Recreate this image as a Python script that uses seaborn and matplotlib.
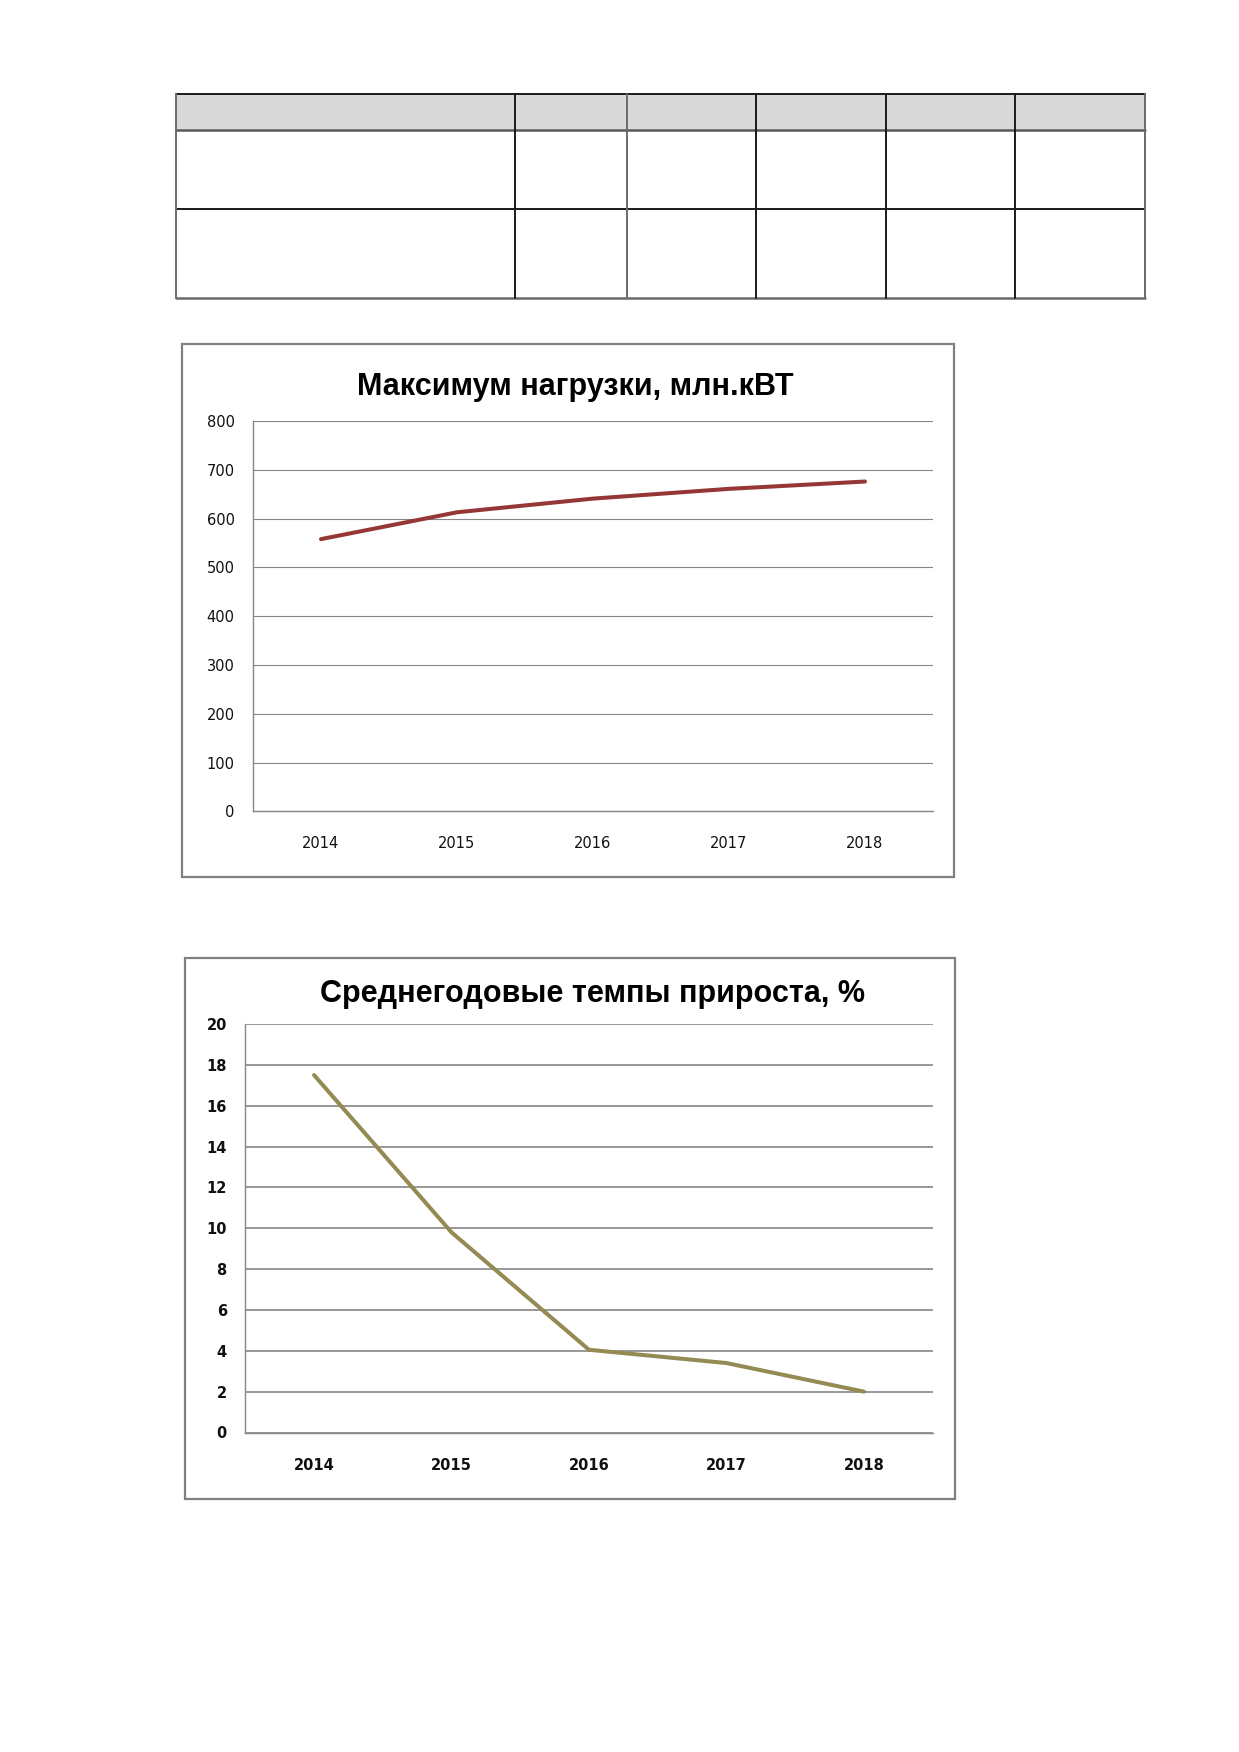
#!/usr/bin/env python
"""
Два графика: максимум нагрузки и среднегодовые темпы прироста (2014-2018)
"""

import matplotlib
matplotlib.use("Agg")
import matplotlib.pyplot as plt
from matplotlib.patches import Rectangle
import seaborn as sns

years = [2014, 2015, 2016, 2017, 2018]
max_load = [558, 613, 641, 661, 676]
growth_rate = [17.5, 9.8, 4.05, 3.4, 2.0]

title_load = "Максимум нагрузки, млн.кВТ"
title_growth = "Среднегодовые темпы прироста, %"

W, H = 1239, 1752
GRAY = "#868686"


def px_axes(fig, left, top, right, bottom):
    return fig.add_axes([left / W, 1 - bottom / H, (right - left) / W, (bottom - top) / H])


def style_chart(ax, ymax, ystep, grid_lw, bold, xpad):
    ax.set_xlim(years[0] - 0.5, years[-1] + 0.5)
    ax.set_ylim(0, ymax)
    ax.set_yticks(range(0, ymax + 1, ystep))
    ax.set_xticks(years)
    ax.set_xticks([y - 0.5 for y in years] + [years[-1] + 0.5], minor=True)
    ax.set_xlabel("")
    ax.set_ylabel("")
    ax.yaxis.grid(True, color=GRAY, lw=grid_lw)
    ax.xaxis.grid(False)
    ax.set_axisbelow(True)
    for s in ["top", "right"]:
        ax.spines[s].set_visible(False)
    for s in ["left", "bottom"]:
        ax.spines[s].set_color(GRAY)
        ax.spines[s].set_linewidth(1)
    weight = "bold" if bold else "normal"
    ax.tick_params(axis="y", length=4.3, width=1, color=GRAY, pad=9,
                   labelsize=10.5, labelcolor="#111111")
    ax.tick_params(axis="x", which="major", length=0, pad=xpad,
                   labelsize=10.5, labelcolor="#111111")
    ax.tick_params(axis="x", which="minor", length=4.3, width=1, color=GRAY)
    for lab in ax.get_xticklabels() + ax.get_yticklabels():
        lab.set_fontweight(weight)


def main():
    sns.set_style("white")
    plt.rcParams["font.family"] = ["DejaVu Sans"]

    fig = plt.figure(figsize=(W / 100, H / 100), dpi=100)

    # page layer: empty table and chart frames
    page = fig.add_axes([0, 0, 1, 1])
    page.set_xlim(0, W)
    page.set_ylim(H, 0)
    page.axis("off")

    cols = [176, 515, 627, 756, 886, 1015, 1145]
    rows = [94, 130, 209, 298]
    page.add_patch(Rectangle((cols[0], rows[0]), cols[-1] - cols[0], rows[1] - rows[0],
                             facecolor="#d9d9d9", edgecolor="none"))
    page.plot([cols[0], cols[-1]], [rows[0], rows[0]], color="#1a1a1a", lw=1.4)
    page.plot([cols[0], cols[-1]], [rows[1], rows[1]], color="#5a5a5a", lw=1.8)
    page.plot([cols[0], cols[-1]], [rows[2], rows[2]], color="#1a1a1a", lw=1.4)
    page.plot([cols[0], cols[-1]], [rows[3], rows[3]], color="#6a6a6a", lw=1.8)
    for i, c in enumerate(cols):
        color = "#6a6a6a" if i in (0, 2, 6) else "#1a1a1a"
        page.plot([c, c], [rows[0], rows[-1]], color=color, lw=1.4)

    page.add_patch(Rectangle((182, 344), 954 - 182, 877 - 344,
                             facecolor="none", edgecolor="#7f7f7f", lw=1.6))
    page.add_patch(Rectangle((185, 958), 955 - 185, 1499 - 958,
                             facecolor="none", edgecolor="#7f7f7f", lw=1.6))

    title_font = ["Liberation Sans Narrow", "Liberation Sans", "DejaVu Sans"]

    # chart 1
    ax1 = px_axes(fig, 253, 421, 933, 811.5)
    ax1.patch.set_alpha(0)
    sns.lineplot(x=years, y=max_load, ax=ax1, color="#953735", lw=2.9)
    style_chart(ax1, 800, 100, 0.8, bold=False, xpad=17.5)
    fig.text(575 / W, 1 - 387 / H, title_load, ha="center", va="center",
             fontsize=22, fontweight="bold", family=title_font, color="black")

    # chart 2
    ax2 = px_axes(fig, 245.3, 1024, 932.7, 1432.5)
    ax2.patch.set_alpha(0)
    sns.lineplot(x=years, y=growth_rate, ax=ax2, color="#948a54", lw=2.9)
    style_chart(ax2, 20, 2, 1.2, bold=True, xpad=18)
    fig.text(593 / W, 1 - 994 / H, title_growth, ha="center", va="center",
             fontsize=22, fontweight="bold", family=title_font, color="black")

    fig.savefig("out.png", dpi=100)


if __name__ == "__main__":
    main()
